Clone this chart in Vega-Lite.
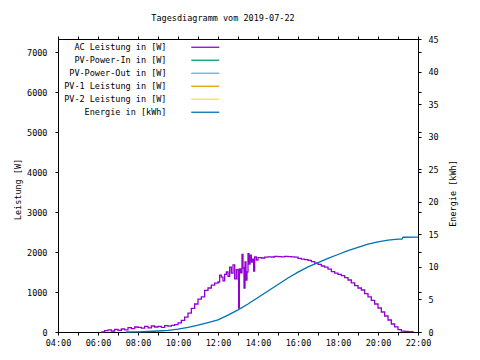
{
  "$schema": "https://vega.github.io/schema/vega-lite/v6.json",
  "width": 360,
  "height": 293,
  "autosize": {"type": "none"},
  "padding": {"left": 58, "top": 39, "right": 62, "bottom": 28},
  "background": "white",
  "title": {"text": "Tagesdiagramm vom 2019-07-22", "font": "DejaVu Sans Mono", "fontSize": 8.5, "fontWeight": "normal", "color": "black", "anchor": "middle", "dx": -15, "offset": 13},
  "config": {
    "view": {"stroke": "black", "strokeWidth": 1},
    "axis": {"labelFont": "DejaVu Sans Mono", "labelFontSize": 8.5, "labelColor": "black", "titleFont": "DejaVu Sans Mono", "titleFontSize": 8.5, "titleFontWeight": "normal", "titleColor": "black", "ticks": true, "tickColor": "black", "tickWidth": 1, "tickOpacity": 1, "domain": false, "grid": false, "tickSize": 3, "offset": 0, "labelFlush": false, "labelOverlap": false, "labelBound": false}
  },
  "datasets": {
    "ac": [
      {"t": "2019-07-22T06:10", "w": 5}, {"t": "2019-07-22T06:20", "w": 35}, {"t": "2019-07-22T06:30", "w": 55}, {"t": "2019-07-22T06:40", "w": 25}, {"t": "2019-07-22T06:50", "w": 65},
      {"t": "2019-07-22T07:00", "w": 40}, {"t": "2019-07-22T07:10", "w": 75}, {"t": "2019-07-22T07:20", "w": 55}, {"t": "2019-07-22T07:30", "w": 110}, {"t": "2019-07-22T07:40", "w": 85}, {"t": "2019-07-22T07:50", "w": 125},
      {"t": "2019-07-22T08:00", "w": 115}, {"t": "2019-07-22T08:10", "w": 95}, {"t": "2019-07-22T08:20", "w": 140}, {"t": "2019-07-22T08:30", "w": 105}, {"t": "2019-07-22T08:40", "w": 150}, {"t": "2019-07-22T08:50", "w": 125},
      {"t": "2019-07-22T09:00", "w": 140}, {"t": "2019-07-22T09:10", "w": 115}, {"t": "2019-07-22T09:20", "w": 160}, {"t": "2019-07-22T09:30", "w": 145}, {"t": "2019-07-22T09:40", "w": 165}, {"t": "2019-07-22T09:50", "w": 185},
      {"t": "2019-07-22T10:00", "w": 230}, {"t": "2019-07-22T10:10", "w": 290}, {"t": "2019-07-22T10:20", "w": 370}, {"t": "2019-07-22T10:30", "w": 470}, {"t": "2019-07-22T10:40", "w": 590}, {"t": "2019-07-22T10:50", "w": 700},
      {"t": "2019-07-22T11:00", "w": 820}, {"t": "2019-07-22T11:10", "w": 880}, {"t": "2019-07-22T11:20", "w": 1040}, {"t": "2019-07-22T11:30", "w": 1100}, {"t": "2019-07-22T11:40", "w": 1170}, {"t": "2019-07-22T11:50", "w": 1220},
      {"t": "2019-07-22T12:00", "w": 1250}, {"t": "2019-07-22T12:05", "w": 1420}, {"t": "2019-07-22T12:10", "w": 1370}, {"t": "2019-07-22T12:15", "w": 1280}, {"t": "2019-07-22T12:20", "w": 1440}, {"t": "2019-07-22T12:25", "w": 1500},
      {"t": "2019-07-22T12:30", "w": 1390}, {"t": "2019-07-22T12:35", "w": 1620}, {"t": "2019-07-22T12:40", "w": 1470}, {"t": "2019-07-22T12:45", "w": 1680}, {"t": "2019-07-22T12:50", "w": 1330}, {"t": "2019-07-22T12:55", "w": 1560},
      {"t": "2019-07-22T13:00", "w": 1320}, {"t": "2019-07-22T13:02", "w": 600}, {"t": "2019-07-22T13:04", "w": 1580}, {"t": "2019-07-22T13:08", "w": 1480}, {"t": "2019-07-22T13:12", "w": 1940}, {"t": "2019-07-22T13:15", "w": 1600},
      {"t": "2019-07-22T13:18", "w": 1100}, {"t": "2019-07-22T13:21", "w": 1750}, {"t": "2019-07-22T13:24", "w": 1300}, {"t": "2019-07-22T13:27", "w": 1500}, {"t": "2019-07-22T13:30", "w": 1960}, {"t": "2019-07-22T13:33", "w": 1700},
      {"t": "2019-07-22T13:36", "w": 1920}, {"t": "2019-07-22T13:40", "w": 1750}, {"t": "2019-07-22T13:44", "w": 1820}, {"t": "2019-07-22T13:47", "w": 1520}, {"t": "2019-07-22T13:50", "w": 1880}, {"t": "2019-07-22T13:55", "w": 1800},
      {"t": "2019-07-22T14:00", "w": 1860}, {"t": "2019-07-22T14:10", "w": 1850}, {"t": "2019-07-22T14:20", "w": 1870}, {"t": "2019-07-22T14:30", "w": 1880}, {"t": "2019-07-22T14:40", "w": 1875}, {"t": "2019-07-22T14:50", "w": 1890},
      {"t": "2019-07-22T15:00", "w": 1885}, {"t": "2019-07-22T15:10", "w": 1880}, {"t": "2019-07-22T15:20", "w": 1890}, {"t": "2019-07-22T15:30", "w": 1885}, {"t": "2019-07-22T15:40", "w": 1880}, {"t": "2019-07-22T15:50", "w": 1870},
      {"t": "2019-07-22T16:00", "w": 1840}, {"t": "2019-07-22T16:10", "w": 1820}, {"t": "2019-07-22T16:20", "w": 1810}, {"t": "2019-07-22T16:30", "w": 1790}, {"t": "2019-07-22T16:40", "w": 1760}, {"t": "2019-07-22T16:50", "w": 1720},
      {"t": "2019-07-22T17:00", "w": 1690}, {"t": "2019-07-22T17:10", "w": 1650}, {"t": "2019-07-22T17:20", "w": 1620}, {"t": "2019-07-22T17:30", "w": 1570}, {"t": "2019-07-22T17:40", "w": 1510}, {"t": "2019-07-22T17:50", "w": 1470},
      {"t": "2019-07-22T18:00", "w": 1440}, {"t": "2019-07-22T18:10", "w": 1410}, {"t": "2019-07-22T18:20", "w": 1360}, {"t": "2019-07-22T18:30", "w": 1300}, {"t": "2019-07-22T18:40", "w": 1230}, {"t": "2019-07-22T18:50", "w": 1160},
      {"t": "2019-07-22T19:00", "w": 1100}, {"t": "2019-07-22T19:10", "w": 1050}, {"t": "2019-07-22T19:20", "w": 960}, {"t": "2019-07-22T19:30", "w": 880}, {"t": "2019-07-22T19:40", "w": 790}, {"t": "2019-07-22T19:50", "w": 700},
      {"t": "2019-07-22T20:00", "w": 600}, {"t": "2019-07-22T20:10", "w": 500}, {"t": "2019-07-22T20:20", "w": 400}, {"t": "2019-07-22T20:30", "w": 300}, {"t": "2019-07-22T20:40", "w": 200}, {"t": "2019-07-22T20:50", "w": 130},
      {"t": "2019-07-22T21:00", "w": 60}, {"t": "2019-07-22T21:10", "w": 20}, {"t": "2019-07-22T21:20", "w": 15}, {"t": "2019-07-22T21:30", "w": 10}, {"t": "2019-07-22T21:40", "w": 8}, {"t": "2019-07-22T21:45", "w": 0}
    ],
    "en": [
      {"t": "2019-07-22T07:24", "e": 0}, {"t": "2019-07-22T08:00", "e": 0.03}, {"t": "2019-07-22T08:30", "e": 0.08}, {"t": "2019-07-22T09:00", "e": 0.15}, {"t": "2019-07-22T09:30", "e": 0.25},
      {"t": "2019-07-22T10:00", "e": 0.45}, {"t": "2019-07-22T10:30", "e": 0.7}, {"t": "2019-07-22T11:00", "e": 1.05}, {"t": "2019-07-22T11:30", "e": 1.45}, {"t": "2019-07-22T12:00", "e": 1.85},
      {"t": "2019-07-22T12:30", "e": 2.6}, {"t": "2019-07-22T13:00", "e": 3.4}, {"t": "2019-07-22T13:30", "e": 4.3}, {"t": "2019-07-22T14:00", "e": 5.3}, {"t": "2019-07-22T14:30", "e": 6.3},
      {"t": "2019-07-22T15:00", "e": 7.3}, {"t": "2019-07-22T15:30", "e": 8.3}, {"t": "2019-07-22T16:00", "e": 9.2}, {"t": "2019-07-22T16:30", "e": 10.0}, {"t": "2019-07-22T17:00", "e": 10.65},
      {"t": "2019-07-22T17:30", "e": 11.3}, {"t": "2019-07-22T18:00", "e": 11.9}, {"t": "2019-07-22T18:30", "e": 12.5}, {"t": "2019-07-22T19:00", "e": 13.0}, {"t": "2019-07-22T19:30", "e": 13.5},
      {"t": "2019-07-22T20:00", "e": 13.85}, {"t": "2019-07-22T20:30", "e": 14.1}, {"t": "2019-07-22T21:00", "e": 14.25}, {"t": "2019-07-22T21:12", "e": 14.26}, {"t": "2019-07-22T21:15", "e": 14.55}, {"t": "2019-07-22T22:00", "e": 14.58}
    ]
  },
  "layer": [
    {
      "data": {"name": "ac"},
      "mark": {"type": "line", "strokeWidth": 1.3, "interpolate": "step-after"},
      "encoding": {
        "x": {"field": "t", "type": "temporal",
          "scale": {"domain": [{"year": 2019, "month": 7, "date": 22, "hours": 4}, {"year": 2019, "month": 7, "date": 22, "hours": 22}], "nice": false},
          "axis": {"orient": "bottom", "title": null, "tickCount": 18, "labelExpr": "hours(datum.value) % 2 == 0 ? timeFormat(datum.value, '%H:%M') : ''", "labelPadding": 3}},
        "y": {"field": "w", "type": "quantitative", "scale": {"domain": [0, 7325], "nice": false},
          "axis": {"orient": "left", "title": "Leistung [W]", "format": "d", "values": [0, 1000, 2000, 3000, 4000, 5000, 6000, 7000], "labelPadding": 8, "titlePadding": 4, "titleY": 150}},
        "color": {"datum": "AC Leistung in [W]", "type": "nominal",
          "scale": {"domain": ["AC Leistung in [W]", "PV-Power-In in [W]", "PV-Power-Out in [W]", "PV-1 Leistung in [W]", "PV-2 Leistung in [W]", "Energie in [kWh]"], "range": ["#9400d3", "#009e73", "#56b4e9", "#e69f00", "#f0e442", "#0072b2"]},
          "legend": {"orient": "none", "legendX": 143, "legendY": 4, "title": null, "symbolType": "M-7,0H7", "symbolSize": 16, "symbolStrokeWidth": 1.3, "labelAlign": "right", "labelOffset": -43, "labelFont": "DejaVu Sans Mono", "labelFontSize": 8.5, "labelColor": "black", "rowPadding": 4, "padding": 0}}
      }
    },
    {
      "data": {"name": "en"},
      "mark": {"type": "line", "strokeWidth": 1.3},
      "encoding": {
        "x": {"field": "t", "type": "temporal",
          "axis": {"orient": "top", "title": null, "labels": false, "tickCount": 18}},
        "y": {"field": "e", "type": "quantitative", "scale": {"domain": [0, 45], "nice": false},
          "axis": {"orient": "right", "title": "Energie [kWh]", "titleAngle": 270, "titleBaseline": "top", "values": [0, 5, 10, 15, 20, 25, 30, 35, 40, 45], "labelPadding": 7, "titlePadding": 10, "titleY": 154}},
        "color": {"datum": "Energie in [kWh]", "type": "nominal"}
      }
    },
    {
      "data": {"name": "ac"},
      "mark": {"type": "line", "opacity": 0},
      "encoding": {
        "x": {"field": "t", "type": "temporal", "axis": null},
        "y": {"field": "w", "type": "quantitative", "scale": {"domain": [0, 7325], "nice": false},
          "axis": {"orient": "right", "title": null, "labels": false, "values": [0, 1000, 2000, 3000, 4000, 5000, 6000, 7000]}}
      }
    }
  ],
  "resolve": {"scale": {"y": "independent"}, "axis": {"x": "independent", "y": "independent"}}
}
